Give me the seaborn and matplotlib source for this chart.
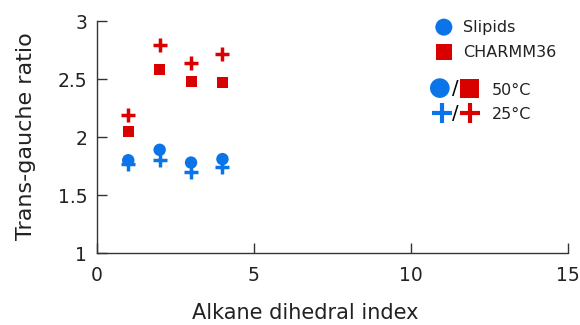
import matplotlib
matplotlib.use("Agg")
import matplotlib.pyplot as plt
import seaborn as sns
import pandas as pd

sns.set_style("white")
plt.rcParams['font.family'] = ['DejaVu Sans']

dihedral_index = [1, 2, 3, 4]
slipids_50 = [1.80, 1.89, 1.78, 1.81]
slipids_25 = [1.77, 1.80, 1.70, 1.74]
charmm_50 = [2.05, 2.58, 2.48, 2.47]
charmm_25 = [2.19, 2.79, 2.64, 2.72]

BLUE = "#0a74e8"
RED = "#d90000"

fig = plt.figure(figsize=(5.8, 3.25), dpi=100)
ax = fig.add_axes([0.167, 0.2215, 0.812, 0.7135])

def df(y):
    return pd.DataFrame({"x": dihedral_index, "y": y})

sns.scatterplot(data=df(slipids_25), x="x", y="y", ax=ax, marker="+", s=90,
                color=BLUE, linewidth=2.5, zorder=3)
sns.scatterplot(data=df(slipids_50), x="x", y="y", ax=ax, marker="o", s=80,
                color=BLUE, edgecolor="none", zorder=3)
sns.scatterplot(data=df(charmm_25), x="x", y="y", ax=ax, marker="+", s=90,
                color=RED, linewidth=2.5, zorder=3)
sns.scatterplot(data=df(charmm_50), x="x", y="y", ax=ax, marker="s", s=62,
                color=RED, edgecolor="none", zorder=3)

ax.set_xlim(0, 15)
ax.set_ylim(1, 3)
ax.set_xticks([0, 5, 10, 15])
ax.set_xticklabels(["0", "5", "10", "15"])
ax.set_yticks([1, 1.5, 2, 2.5, 3])
ax.set_yticklabels(["1", "1.5", "2", "2.5", "3"])
for s in ["top", "right"]:
    ax.spines[s].set_visible(False)
for s in ["left", "bottom"]:
    ax.spines[s].set_color("#333333")
    ax.spines[s].set_linewidth(1.0)
ax.tick_params(axis="both", which="major", bottom=True, left=True,
               direction="in", length=7, width=1.0,
               colors="#333333", labelsize=13.5, labelcolor="#222222")
ax.tick_params(axis="x", pad=9)
ax.tick_params(axis="y", pad=7)
ax.set_xlabel("Alkane dihedral index", fontsize=15, color="#222222")
ax.set_ylabel("Trans-gauche ratio", fontsize=16, color="#222222")

def fx(px):
    return (px - 97) / 471.0

def fy(py):
    return (253 - py) / 232.0

ax.xaxis.set_label_coords(fx(305), fy(303))
ax.yaxis.set_label_coords(fx(36), fy(136))

# custom legend in axes coordinates
t = ax.transAxes
ax.scatter([fx(444)], [fy(27)], marker="o", s=150, color=BLUE, transform=t, clip_on=False, edgecolor="none")
ax.text(fx(463), fy(27), "Slipids", transform=t, fontsize=11.5, va="center", color="#222222")
ax.scatter([fx(444)], [fy(52)], marker="s", s=130, color=RED, transform=t, clip_on=False, edgecolor="none")
ax.text(fx(463), fy(52), "CHARMM36", transform=t, fontsize=11.5, va="center", color="#222222")

ax.scatter([fx(440)], [fy(88)], marker="o", s=200, color=BLUE, transform=t, clip_on=False, edgecolor="none")
ax.text(fx(455), fy(88), "/", transform=t, fontsize=14, va="center", ha="center", color="#000000")
ax.scatter([fx(470)], [fy(88)], marker="s", s=190, color=RED, transform=t, clip_on=False, edgecolor="none")
ax.text(fx(492), fy(90), "50°C", transform=t, fontsize=11.5, va="center", color="#222222")

ax.scatter([fx(442)], [fy(113)], marker="+", s=220, color=BLUE, linewidth=3, transform=t, clip_on=False)
ax.text(fx(455), fy(113), "/", transform=t, fontsize=14, va="center", ha="center", color="#000000")
ax.scatter([fx(470)], [fy(113)], marker="+", s=220, color=RED, linewidth=3, transform=t, clip_on=False)
ax.text(fx(492), fy(114), "25°C", transform=t, fontsize=11.5, va="center", color="#222222")

fig.savefig("out.png", dpi=100)
